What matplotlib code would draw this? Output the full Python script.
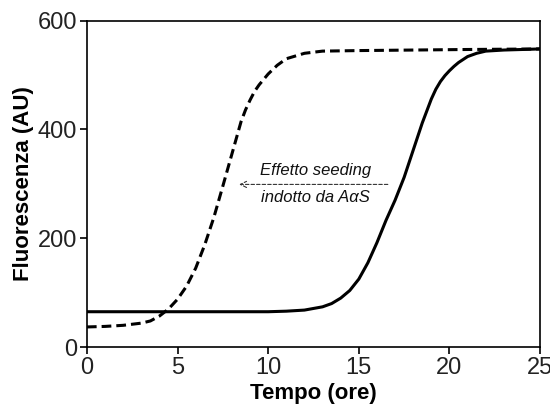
import matplotlib

matplotlib.use("Agg")
import matplotlib.pyplot as plt

plt.rcParams["font.family"] = ["Liberation Sans", "DejaVu Sans"]
plt.rcParams["lines.scale_dashes"] = False

# tempo (ore) e fluorescenza (AU)
t_ctrl = [0.0, 5.0, 10.0, 11.0, 12.0, 13.0, 13.5, 14.0, 14.5, 15.0, 15.5,
          16.0, 16.5, 17.0, 17.5, 18.0, 18.5, 19.0, 19.25, 19.5, 19.75,
          20.0, 20.25, 20.5, 21.0, 21.5, 22.0, 23.0, 24.0, 25.0]
f_ctrl = [65, 65, 65, 66, 68, 74, 80, 90, 104, 125, 155,
          192, 233, 270, 312, 362, 412, 456, 474, 488, 499,
          508, 516, 523, 534, 540, 544, 546, 547, 548]

t_seed = [0.0, 1.0, 2.0, 3.0, 3.5, 4.0, 4.5, 5.0, 5.5, 6.0, 6.5, 7.0, 7.5,
          8.0, 8.5, 8.75, 9.0, 9.25, 9.5, 10.0, 10.5, 11.0, 12.0, 13.0,
          15.0, 18.0, 21.0, 25.0]
f_seed = [37, 38, 40, 44, 48, 57, 70, 88, 112, 145, 188, 238, 296,
          355, 414, 436, 454, 470, 482, 502, 518, 530, 540, 544,
          545, 546, 547, 548]


def main():
    fig = plt.figure(figsize=(5.5, 4.05), dpi=100)
    ax = fig.add_axes([0.158, 0.143, 0.824, 0.806])

    ax.plot(t_ctrl, f_ctrl, color="black", linewidth=2.2,
            solid_joinstyle="round")
    ax.plot(t_seed, f_seed, color="black", linewidth=2.2,
            dashes=(7.0, 3.6), dash_capstyle="butt", dash_joinstyle="round")

    ax.annotate("", xy=(8.4, 299), xytext=(16.6, 299),
                arrowprops=dict(arrowstyle="->", color="#333333", lw=0.8,
                                linestyle=(0, (2.5, 1.5)),
                                shrinkA=0, shrinkB=0, mutation_scale=11))
    ax.text(12.6, 324, "Effetto seeding", ha="center", va="center",
            style="italic", fontsize=12, color="#111111")
    ax.text(12.6, 275, "indotto da A\u03b1S", ha="center", va="center",
            style="italic", fontsize=12, color="#111111")

    ax.set_xlim(0, 25)
    ax.set_ylim(0, 600)
    ax.set_xticks([0, 5, 10, 15, 20, 25])
    ax.set_yticks([0, 200, 400, 600])
    ax.tick_params(direction="out", length=5, width=1.2, labelsize=17,
                   colors="black", labelcolor="#222222", pad=2)
    for spine in ax.spines.values():
        spine.set_linewidth(1.2)

    ax.set_xlabel("Tempo (ore)", fontsize=16, fontweight="bold", labelpad=3)
    ax.set_ylabel("Fluorescenza (AU)", fontsize=16, fontweight="bold",
                  labelpad=3)

    fig.savefig("out.png", dpi=100)
    plt.close(fig)


if __name__ == "__main__":
    main()
